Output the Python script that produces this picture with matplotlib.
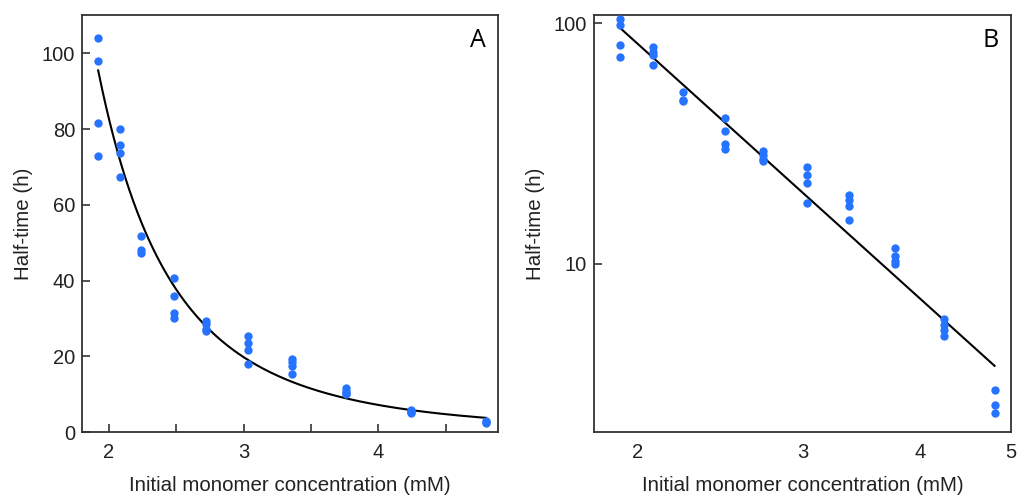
import numpy as np
import matplotlib.pyplot as plt
from matplotlib.ticker import FixedLocator, NullLocator, NullFormatter

# initial monomer concentration (mM) for each group of replicates
conc = [1.92, 2.08, 2.24, 2.48, 2.72, 3.03, 3.36, 3.76, 4.24, 4.80]

# half-times (h) of the replicate runs at each concentration
half_times = [
    [104.0, 98.0, 81.7, 72.8],
    [80.0, 75.9, 73.7, 67.3],
    [51.7, 48.2, 47.4],
    [40.6, 35.8, 31.4, 30.1],
    [29.4, 28.5, 27.2, 26.7],
    [25.4, 23.4, 21.8, 18.0],
    [19.4, 18.5, 17.5, 15.3],
    [11.6, 10.8, 10.3, 10.0],
    [5.9, 5.6, 5.3, 5.0],
    [3.0, 2.6, 2.4],
]

panel_labels = ["A", "B"]

xs = np.concatenate([[c] * len(h) for c, h in zip(conc, half_times)])
ys = np.concatenate(half_times)

# power-law fit (straight line in log-log)
slope, intercept = np.polyfit(np.log(xs), np.log(ys), 1)
xfit = np.linspace(conc[0], conc[-1], 200)
yfit = np.exp(intercept) * xfit ** slope

plt.rcParams['font.family'] = ['Liberation Sans', 'DejaVu Sans']
dot_color = '#2673ff'
text_color = '#222222'

fig = plt.figure(figsize=(10.2, 4.95), dpi=100)
ax1 = fig.add_axes([0.0804, 0.127, 0.408, 0.842])
ax2 = fig.add_axes([0.5824, 0.127, 0.409, 0.842])

for ax in (ax1, ax2):
    ax.plot(xs, ys, 'o', color=dot_color, markersize=6, markeredgewidth=0, zorder=3)
    ax.plot(xfit, yfit, color='black', lw=1.5, zorder=2)
    for sp in ax.spines.values():
        sp.set_color('#333333')
        sp.set_linewidth(1.3)
    ax.tick_params(direction='in', length=6, width=1.2, color='#333333',
                   labelsize=14.5, pad=5, labelcolor=text_color)
    ax.set_xlabel('Initial monomer concentration (mM)', fontsize=14.8,
                  labelpad=10, color=text_color)
    ax.set_ylabel('Half-time (h)', fontsize=14.8, labelpad=6, color=text_color)

# panel A: linear axes
ax1.set_xlim(1.80, 4.89)
ax1.set_ylim(0, 110)
ax1.xaxis.set_major_locator(FixedLocator([2, 3, 4]))
ax1.xaxis.set_minor_locator(FixedLocator([2.5, 3.5, 4.5]))
ax1.tick_params(axis='x', which='both', pad=8)
ax1.tick_params(axis='x', which='minor', direction='in', length=6, width=1.2, color='#333333')
ax1.set_yticks([0, 20, 40, 60, 80, 100])

# panel B: log-log axes
ax2.set_xscale('log')
ax2.set_yscale('log')
ax2.set_xlim(1.80, 5.0)
ax2.set_ylim(2.0, 108)
ax2.xaxis.set_major_locator(FixedLocator([2, 3, 4, 5]))
ax2.xaxis.set_minor_locator(NullLocator())
ax2.xaxis.set_minor_formatter(NullFormatter())
ax2.set_xticklabels(['2', '3', '4', '5'])
ax2.tick_params(axis='x', length=0, pad=8)
ax2.yaxis.set_major_locator(FixedLocator([10, 100]))
ax2.yaxis.set_minor_locator(NullLocator())
ax2.set_yticklabels(['10', '100'])

for ax, lab in zip((ax1, ax2), panel_labels):
    ax.text(0.97, 0.94, lab, transform=ax.transAxes, ha='right', va='center',
            fontsize=18, family=['Open Sans', 'DejaVu Sans'])

fig.savefig('out.png', dpi=100)
